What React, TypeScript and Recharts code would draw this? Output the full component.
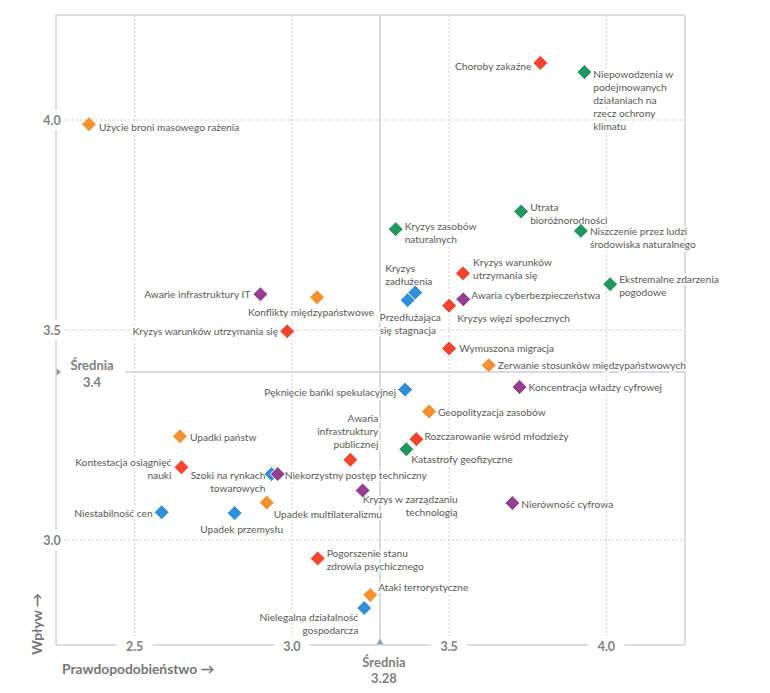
import React from 'react';
import {
  ScatterChart,
  Scatter,
  XAxis,
  YAxis,
  CartesianGrid,
  ReferenceLine,
  Label,
} from 'recharts';

// --- data ---
const riskNames = [
  'Użycie broni masowego rażenia',
  'Awarie infrastruktury IT',
  'Konflikty międzypaństwowe',
  'Kryzys warunków utrzymania się',
  'Kryzys zasobów\nnaturalnych',
  'Choroby zakaźne',
  'Niepowodzenia w\npodejmowanych\ndziałaniach na\nrzecz ochrony\nklimatu',
  'Utrata\nbioróżnorodności',
  'Niszczenie przez ludzi\nśrodowiska naturalnego',
  'Kryzys warunków\nutrzymania się',
  'Ekstremalne zdarzenia\npogodowe',
  'Kryzys\nzadłużenia',
  'Przedłużająca\nsię stagnacja',
  'Awaria cyberbezpieczeństwa',
  'Kryzys więzi społecznych',
  'Wymuszona migracja',
  'Zerwanie stosunków międzypaństwowych',
  'Koncentracja władzy cyfrowej',
  'Pęknięcie bańki spekulacyjnej',
  'Geopolityzacja zasobów',
  'Rozczarowanie wśród młodzieży',
  'Katastrofy geofizyczne',
  'Nierówność cyfrowa',
  'Awaria\ninfrastruktury\npublicznej',
  'Niekorzystny postęp techniczny',
  'Szoki na rynkach\ntowarowych',
  'Kryzys w zarządzaniu\ntechnologią',
  'Upadki państw',
  'Kontestacja osiągnięć\nnauki',
  'Niestabilność cen',
  'Upadek przemysłu',
  'Upadek multilateralizmu',
  'Pogorszenie stanu\nzdrowia psychicznego',
  'Ataki terrorystyczne',
  'Nielegalna działalność\ngospodarcza',
];

const likelihood = [
  2.355, 2.9, 3.08, 2.985, 3.33, 3.79, 3.93, 3.729, 3.919, 3.544, 4.012, 3.392,
  3.368, 3.545, 3.5, 3.5, 3.626, 3.724, 3.36, 3.436, 3.396, 3.364, 3.701, 3.186,
  2.955, 2.935, 3.225, 2.644, 2.649, 2.586, 2.818, 2.92, 3.082, 3.249, 3.23,
];

const impact = [
  3.99, 3.585, 3.578, 3.497, 3.74, 4.136, 4.114, 3.782, 3.736, 3.635, 3.609, 3.589,
  3.571, 3.573, 3.558, 3.456, 3.416, 3.364, 3.358, 3.306, 3.24, 3.216, 3.088, 3.191,
  3.157, 3.157, 3.118, 3.247, 3.173, 3.066, 3.064, 3.089, 2.956, 2.869, 2.838,
];

const riskGroup = [
  'geo', 'tech', 'geo', 'soc', 'env', 'soc', 'env', 'env', 'env', 'soc', 'env', 'eco',
  'eco', 'tech', 'soc', 'soc', 'geo', 'tech', 'eco', 'geo', 'soc', 'env', 'tech', 'soc',
  'tech', 'eco', 'tech', 'geo', 'soc', 'eco', 'eco', 'geo', 'soc', 'geo', 'eco',
];

const groups = ['eco', 'env', 'geo', 'soc', 'tech'];
const xTicks = [2.5, 3.0, 3.5, 4.0];
const yTicks = [3.0, 3.5, 4.0];
const meanLikelihood = 3.28;
const meanImpact = 3.4;

// --- layout: where each label sits relative to its diamond [anchor, dx, dy] ---
type Anchor = 'start' | 'middle' | 'end';
const labelPlace: [Anchor, number, number][] = [
  ['start', 10, 3], ['end', -10, 0], ['middle', -6, 15], ['end', -9, 0],
  ['start', 9, -3], ['end', -9, 3], ['start', 9, 2], ['start', 9, -5],
  ['start', 9, 0], ['start', 10, -11], ['start', 9, -5], ['start', -30, -25],
  ['start', -28, 17], ['start', 8, -4], ['start', 8, 12], ['start', 10, 0],
  ['start', 9, 0], ['start', 9, 0], ['end', -9, 2], ['start', 9, 1],
  ['start', 8, -3], ['start', 5, 10], ['start', 9, 1], ['end', 28, -42],
  ['start', 7, 1], ['end', -6, 1], ['end', 95, 9], ['start', 10, 1],
  ['end', -10, -5], ['end', -9, 1], ['middle', 7, 16], ['start', 7, 11],
  ['start', 9, -5], ['start', 8, -8], ['end', -6, 9],
];

const groupColors: Record<string, string> = {
  eco: '#2F8FDA',
  env: '#22975E',
  geo: '#F7912F',
  soc: '#F4462E',
  tech: '#943F91',
};

const FONT = 'Lato, "Open Sans", sans-serif';
const TEXT = '#595959';
const AXIS = '#D3D8DF';
const MEAN = '#C9D0D9';

const points = riskNames.map((name, i) => ({
  name,
  x: likelihood[i],
  y: impact[i],
  group: riskGroup[i],
  idx: i,
}));

const Diamond = (color: string) => (props: any) => {
  const { cx, cy } = props;
  if (cx == null || cy == null) return <g />;
  const r = 7.5;
  return (
    <polygon
      points={`${cx},${cy - r} ${cx + r},${cy} ${cx},${cy + r} ${cx - r},${cy}`}
      fill={color}
      stroke="#fff"
      strokeWidth={1}
    />
  );
};

const PointLabel = (props: any) => {
  const { cx, cy, payload } = props;
  if (cx == null || cy == null) return <g />;
  const [anchor, dx, dy] = labelPlace[payload.idx];
  const lines = String(payload.name).split('\n');
  const x = cx + dx;
  return (
    <g>
      {lines.map((l, i) => (
        <text
          key={i}
          x={x}
          y={cy + dy + i * 13}
          textAnchor={anchor}
          dominantBaseline="central"
          fontFamily={FONT}
          fontSize={10.2}
          fill={TEXT}
          stroke="#fff"
          strokeWidth={4}
          strokeLinejoin="round"
          style={{ paintOrder: 'stroke' }}
        >
          {l}
        </text>
      ))}
    </g>
  );
};

const XTick = (props: any) => {
  const { x, y, payload } = props;
  return (
    <g>
      <rect x={x - 18} y={y - 9} width={36} height={18} fill="#fff" />
      <text x={x} y={y + 1} textAnchor="middle" dominantBaseline="central"
        fontFamily={FONT} fontSize={12.5} fontWeight={700} fill="#7F7F7F">
        {Number(payload.value).toFixed(1)}
      </text>
    </g>
  );
};

const YTick = (props: any) => {
  const { x, y, payload } = props;
  return (
    <g>
      <rect x={x - 18} y={y - 10} width={26} height={20} fill="#fff" />
      <text x={x - 4} y={y} textAnchor="middle" dominantBaseline="central"
        fontFamily={FONT} fontSize={12.5} fontWeight={700} fill="#7F7F7F">
        {Number(payload.value).toFixed(1)}
      </text>
    </g>
  );
};

const meanText = { fontFamily: FONT, fontSize: 13, fontWeight: 700, fill: '#7F7F7F' };

const MeanImpactLabel = (props: any) => {
  const { x, y } = props.viewBox;
  return (
    <g>
      <rect x={x + 3} y={y - 18} width={66} height={34} fill="#fff" />
      <polygon points={`${x},${y - 4} ${x + 5},${y} ${x},${y + 4}`} fill="#8C9AAB" />
      <text x={x + 36} y={y - 7} textAnchor="middle" dominantBaseline="central" {...meanText}>
        Średnia
      </text>
      <text x={x + 36} y={y + 10} textAnchor="middle" dominantBaseline="central" {...meanText}>
        {meanImpact.toFixed(1)}
      </text>
    </g>
  );
};

const MeanLikelihoodLabel = (props: any) => {
  const { x, y, height } = props.viewBox;
  const b = y + height;
  return (
    <g>
      <polygon points={`${x - 4},${b} ${x + 4},${b} ${x},${b - 6}`} fill="#8C9AAB" />
      <text x={x + 4} y={b + 17} textAnchor="middle" dominantBaseline="central" {...meanText}>
        Średnia
      </text>
      <text x={x + 4} y={b + 33} textAnchor="middle" dominantBaseline="central" {...meanText}>
        {meanLikelihood.toFixed(2)}
      </text>
    </g>
  );
};

const titleText = { fontFamily: FONT, fontSize: 13.8, fontWeight: 700, fill: '#767676' };

const XTitle = (props: any) => {
  const { x, y } = props.viewBox;
  return (
    <text x={x + 6} y={y + 23} dominantBaseline="central" {...titleText}>
      Prawdopodobieństwo →
    </text>
  );
};

const YTitle = (props: any) => {
  const { x, y, height } = props.viewBox;
  const cx = x + 36;
  const cy = y + height - 21;
  return (
    <text x={cx} y={cy} textAnchor="middle" dominantBaseline="central"
      transform={`rotate(-90 ${cx} ${cy})`} {...titleText}>
      Wpływ →
    </text>
  );
};

export default function App() {
  return (
    <div style={{ position: 'absolute', left: 0, top: 0, width: 770, height: 693, background: '#fff' }}>
      <ScatterChart width={770} height={693} margin={{ top: 15, right: 85, bottom: 0, left: 0 }}>
        <CartesianGrid stroke="#CFCFCF" strokeDasharray="2 2" />
        <XAxis
          type="number"
          dataKey="x"
          domain={[2.25, 4.25]}
          ticks={xTicks}
          height={48}
          tickSize={0}
          tickMargin={0}
          tickLine={false}
          axisLine={{ stroke: AXIS, strokeWidth: 1.5 }}
          tick={<XTick />}
        >
          <Label content={<XTitle />} />
        </XAxis>
        <YAxis
          type="number"
          dataKey="y"
          domain={[2.75, 4.25]}
          ticks={yTicks}
          width={56}
          tickSize={0}
          tickMargin={0}
          tickLine={false}
          axisLine={{ stroke: AXIS, strokeWidth: 1.5 }}
          tick={<YTick />}
        >
          <Label content={<YTitle />} />
        </YAxis>
        <ReferenceLine y={4.25} stroke={AXIS} strokeWidth={1.5} />
        <ReferenceLine x={4.25} stroke={AXIS} strokeWidth={1.5} />
        <ReferenceLine x={meanLikelihood} stroke={MEAN} strokeWidth={1.5} label={<MeanLikelihoodLabel />} />
        <ReferenceLine y={meanImpact} stroke={MEAN} strokeWidth={1.5} label={<MeanImpactLabel />} />
        <Scatter data={points} shape={<PointLabel />} isAnimationActive={false} />
        {groups.map((g) => (
          <Scatter
            key={g}
            data={points.filter((p) => p.group === g)}
            shape={Diamond(groupColors[g])}
            isAnimationActive={false}
          />
        ))}
      </ScatterChart>
    </div>
  );
}
